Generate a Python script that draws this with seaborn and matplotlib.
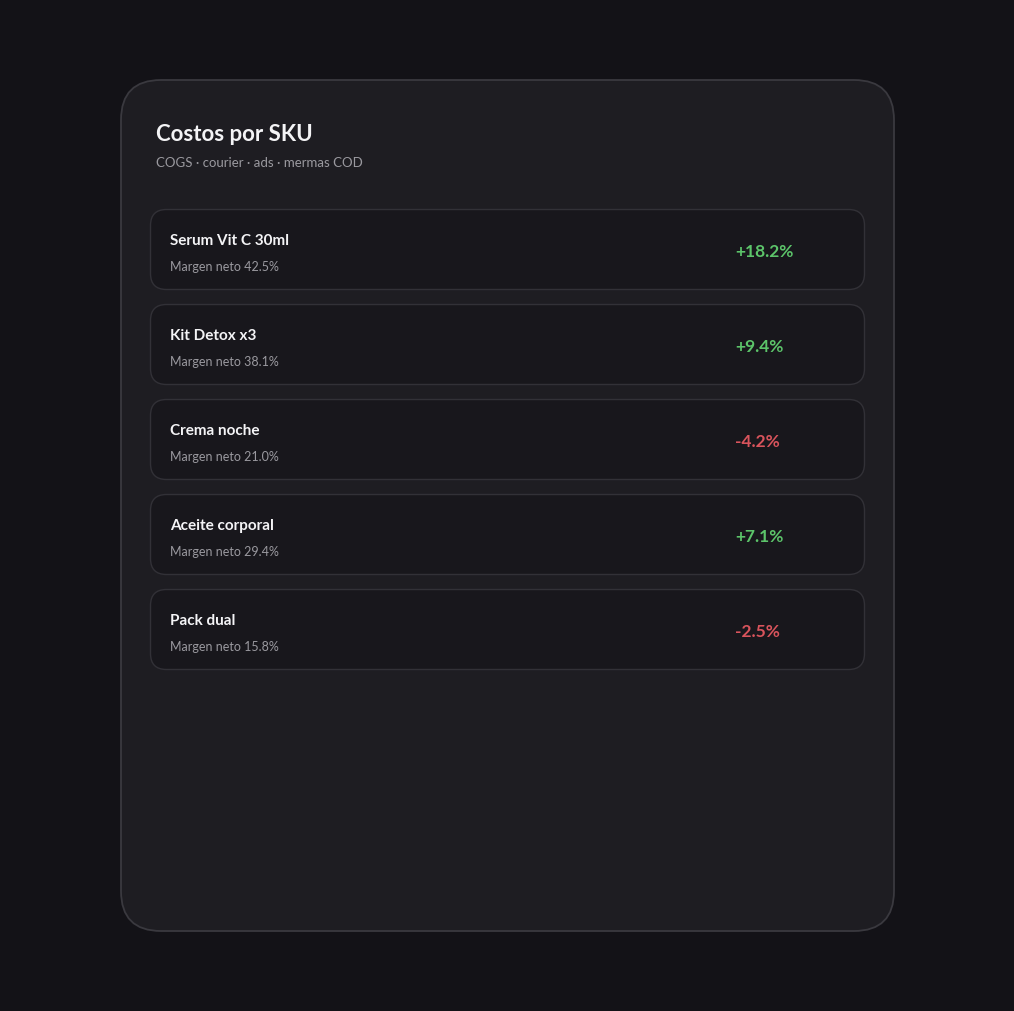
import matplotlib
matplotlib.use("Agg")
import matplotlib.pyplot as plt
from matplotlib.patches import FancyBboxPatch
import seaborn as sns

# datos
skus = ["Serum Vit C 30ml", "Kit Detox x3", "Crema noche", "Aceite corporal", "Pack dual"]
margenes = [42.5, 38.1, 21.0, 29.4, 15.8]
variaciones = [18.2, 9.4, -4.2, 7.1, -2.5]
titulo = "Costos por SKU"
subtitulo = "COGS · courier · ads · mermas COD"

sns.set_theme(style="dark")
plt.rcParams["font.family"] = ["Lato", "DejaVu Sans"]

W, H = 1014, 1012
fig = plt.figure(figsize=(W / 100, H / 100), dpi=100, facecolor="#131217")
ax = fig.add_axes([0, 0, 1, 1])
ax.set_xlim(0, W)
ax.set_ylim(H, 0)
ax.axis("off")
ax.set_facecolor("#131217")

# tarjeta principal
ax.add_patch(FancyBboxPatch((121, 81), 773, 851, boxstyle="round,pad=0,rounding_size=40",
                            fc="#1e1d22", ec="#3a393f", lw=1.3))
ax.text(156, 134, titulo, color="#f4f4f6", fontsize=16, fontweight="bold", va="center")
ax.text(156, 163, subtitulo, color="#9a999f", fontsize=9.5, va="center")

# filas
for i, (nombre, m, v) in enumerate(zip(skus, margenes, variaciones)):
    y0 = 210 + i * 95
    ax.add_patch(FancyBboxPatch((150.5, y0 + 0.5), 714, 80, boxstyle="round,pad=0,rounding_size=16",
                                fc="#18171c", ec="#323137", lw=1))
    ax.text(170, y0 + 31, nombre, color="#f4f4f6", fontsize=11, fontweight="bold", va="center")
    ax.text(170, y0 + 57, f"Margen neto {m:.1f}%", color="#9a999f", fontsize=9, va="center")
    color = "#5cc46a" if v >= 0 else "#d9545c"
    ax.text(735, y0 + 42, f"{v:+.1f}%", color=color, fontsize=12.5, fontweight="bold", va="center")

fig.savefig("out.png", dpi=100, facecolor=fig.get_facecolor())
